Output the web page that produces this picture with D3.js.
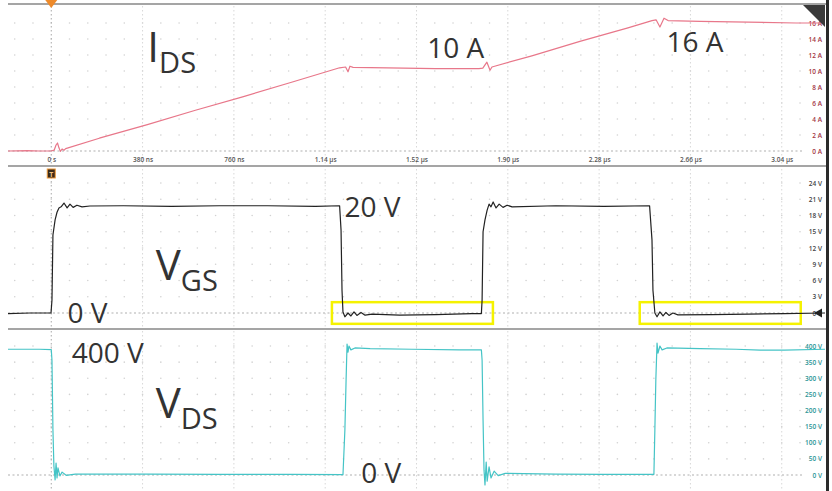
<!DOCTYPE html>
<html>
<head>
<meta charset="utf-8">
<script src="https://cdn.jsdelivr.net/npm/d3@7"></script>
<style>
  body { margin: 0; background: #fff; }
  svg { display: block; font-family: "Open Sans", sans-serif; }
</style>
</head>
<body>
<svg id="scope" width="832" height="491"></svg>
<script>
// time axis (µs)
const timeTicks = [0, 0.38, 0.76, 1.14, 1.52, 1.90, 2.28, 2.66, 3.04]
const timeLabels = ['0 s', '380 ns', '760 ns', '1.14 µs', '1.52 µs', '1.90 µs', '2.28 µs', '2.66 µs', '3.04 µs']

const idsTicks = [0, 2, 4, 6, 8, 10, 12, 14, 16]
const vgsTicks = [0, 3, 6, 9, 12, 15, 18, 21, 24]
const vdsTicks = [0, 50, 100, 150, 200, 250, 300, 350, 400]

// [t µs, A]
const idsData = [
	[-0.18, 0], [-0.1, 0.05], [-0.05, 0], [0.0, 0], [0.012, 0.1], [0.02, 0.75], [0.026, 1.0],
	[0.032, 0.4], [0.038, -0.05], [0.045, 0.25], [0.053, 0.1], [0.06, 0.3], [0.2, 1.6],
	[0.4, 3.3], [0.6, 5.1], [0.8, 6.8], [1.0, 8.6], [1.2, 10.4], [1.225, 10.5],
	[1.235, 9.9], [1.243, 10.6], [1.256, 10.45], [1.4, 10.4], [1.6, 10.3], [1.78, 10.3],
	[1.796, 10.35], [1.813, 11.1], [1.826, 10.1], [1.834, 10.5], [2.0, 11.9], [2.2, 13.7],
	[2.4, 15.4], [2.5, 16.3], [2.517, 16.4], [2.533, 15.5], [2.55, 16.6], [2.567, 16.3],
	[2.7, 16.2], [2.9, 16.1], [3.1, 16.0], [3.22, 16.0]
]

// [t µs, V]
const vgsData = [
	[-0.18, -0.1], [-0.088, 0], [-0.001, 0], [0.003, 2.4], [0.007, 14.4], [0.016, 17.2],
	[0.024, 18.6], [0.032, 19.4], [0.041, 19.6], [0.053, 20.3], [0.066, 19.4], [0.078, 20.1],
	[0.091, 19.5], [0.107, 19.9], [0.128, 19.6], [0.161, 19.75], [0.3, 19.8], [0.5, 19.7],
	[0.7, 19.8], [0.9, 19.8], [1.1, 19.7], [1.2, 19.8], [1.206, 15.3], [1.21, 4.2],
	[1.214, 0.2], [1.222, -0.7], [1.235, 0], [1.247, -0.55], [1.26, 0.2], [1.272, -0.45],
	[1.289, 0.1], [1.306, -0.4], [1.335, -0.2], [1.45, -0.4], [1.6, -0.3], [1.75, -0.1],
	[1.79, -0.1], [1.793, 2.4], [1.797, 15.0], [1.805, 17.2], [1.814, 19.0], [1.822, 20.1],
	[1.83, 19.6], [1.839, 20.5], [1.851, 19.4], [1.864, 20.1], [1.88, 19.5], [1.897, 19.9],
	[1.918, 19.6], [2.1, 19.8], [2.3, 19.7], [2.49, 19.8], [2.5, 13.5], [2.504, 4.2],
	[2.512, 0], [2.521, -0.7], [2.533, 0.2], [2.546, -0.55], [2.558, 0.1], [2.571, -0.45],
	[2.587, 0], [2.608, -0.35], [2.75, -0.3], [2.9, -0.2], [3.05, -0.1], [3.22, 0]
]

// [t µs, V]
const vdsData = [
	[-0.18, 390], [-0.05, 390], [0.0, 389], [0.003, 356], [0.007, 140], [0.011, 28],
	[0.016, -15], [0.02, 37], [0.024, -9], [0.028, 22], [0.036, -3], [0.045, 9],
	[0.062, -1], [0.1, 3], [0.4, 3], [0.7, 2], [1.0, 2], [1.214, 1], [1.222, 140],
	[1.227, 295], [1.231, 406], [1.235, 381], [1.239, 400], [1.247, 388], [1.264, 394],
	[1.327, 392], [1.5, 390], [1.7, 388], [1.79, 388], [1.793, 356], [1.797, 170],
	[1.801, 15], [1.805, -31], [1.81, 40], [1.814, -19], [1.822, 25], [1.83, -9],
	[1.843, 12], [1.86, -2], [1.889, 5], [2.1, 3], [2.3, 2], [2.508, 2], [2.512, 140],
	[2.516, 295], [2.521, 409], [2.525, 378], [2.533, 400], [2.542, 388], [2.562, 394],
	[2.7, 392], [2.85, 390], [2.95, 387], [3.05, 387], [3.22, 390]
]

// annotation boxes on VGS: [t0, t1, v0, v1]
const boxes = [[1.168, 1.838, -2.0, 2.0], [2.449, 3.119, -2.0, 2.0]]

const $svg = d3.select('#scope')

const scaleX = d3.scaleLinear().domain([-0.18, 3.22]).range([8, 825])

const panels = [
	{ key: 'ids', top: 4, bottom: 166, y0: 151, y1: 23, max: 16, ticks: idsTicks, unit: 'A',
		data: idsData, color: '#e8778a', labelColor: '#a33443' },
	{ key: 'vgs', top: 167, bottom: 328, y0: 313, y1: 183, max: 24, ticks: vgsTicks, unit: 'V',
		data: vgsData, color: '#222', labelColor: '#444' },
	{ key: 'vds', top: 329, bottom: 491, y0: 475, y1: 346, max: 400, ticks: vdsTicks, unit: 'V',
		data: vdsData, color: '#45c4c6', labelColor: '#2a9596' }
]
panels.forEach(p => {
	p.scaleY = d3.scaleLinear().domain([0, p.max]).range([p.y0, p.y1])
})

const minorX = d3.range(-0.152, 3.21, 0.076)

// grid
panels.forEach(p => {
	const $g = $svg.append('g').attr('class', 'grid-' + p.key)
	const dots = []
	minorX.forEach(t => p.ticks.slice(1).forEach(v => dots.push([t, v])))
	$g.selectAll('circle')
		.data(dots)
		.enter()
		.append('circle')
		.attr('cx', d => scaleX(d[0]))
		.attr('cy', d => p.scaleY(d[1]))
		.attr('r', 0.8)
		.attr('fill', '#d2d2d2')

	$g.selectAll('line.vgrid')
		.data(timeTicks)
		.enter()
		.append('line')
		.attr('class', 'vgrid')
		.attr('x1', d => scaleX(d))
		.attr('x2', d => scaleX(d))
		.attr('y1', p.top + 2)
		.attr('y2', p.bottom - 1)
		.attr('stroke', (d, i) => i === 0 ? '#a8a8a8' : '#d8d8d8')
		.attr('stroke-width', 1)
		.attr('stroke-dasharray', '1.5,2.5')

	$g.append('line')
		.attr('x1', 8)
		.attr('x2', 803)
		.attr('y1', p.scaleY(0))
		.attr('y2', p.scaleY(0))
		.attr('stroke', '#b0b0b0')
		.attr('stroke-width', 1.2)
		.attr('stroke-dasharray', '2,2.5')
})

// panel separators
$svg.selectAll('line.sep')
	.data([4, 166, 329])
	.enter()
	.append('line')
	.attr('class', 'sep')
	.attr('x1', 8)
	.attr('x2', 826)
	.attr('y1', d => d)
	.attr('y2', d => d)
	.attr('stroke', '#a5a5a5')
	.attr('stroke-width', 2)

// right border
$svg.append('rect')
	.attr('x', 826).attr('y', 0).attr('width', 3).attr('height', 491)
	.attr('fill', '#2a2a2a')

// time labels (top panel)
const axisX = d3.axisBottom(scaleX)
	.tickValues(timeTicks)
	.tickFormat((d, i) => timeLabels[i])
	.tickSize(0)
	.tickPadding(0)
const $axisX = $svg.append('g')
	.attr('transform', 'translate(0,157)')
	.call(axisX)
$axisX.select('.domain').remove()
$axisX.selectAll('text')
	.attr('font-family', '"Open Sans", sans-serif')
	.attr('font-size', 6.5)
	.attr('font-weight', 600)
	.attr('fill', '#555')

// right scale labels
panels.forEach(p => {
	const axisY = d3.axisLeft(p.scaleY)
		.tickValues(p.ticks)
		.tickFormat(d => d + ' ' + p.unit)
		.tickSize(0)
		.tickPadding(0)
	const $ay = $svg.append('g')
		.attr('transform', 'translate(822,0)')
		.call(axisY)
	$ay.select('.domain').remove()
	$ay.selectAll('text')
		.attr('font-family', '"Open Sans", sans-serif')
		.attr('font-size', 6.5)
		.attr('font-weight', 600)
		.attr('fill', p.labelColor)
})

// yellow boxes
const vgs = panels[1]
$svg.selectAll('rect.box')
	.data(boxes)
	.enter()
	.append('rect')
	.attr('class', 'box')
	.attr('x', d => scaleX(d[0]))
	.attr('y', d => vgs.scaleY(d[3]))
	.attr('width', d => scaleX(d[1]) - scaleX(d[0]))
	.attr('height', d => vgs.scaleY(d[2]) - vgs.scaleY(d[3]))
	.attr('fill', 'none')
	.attr('stroke', '#f5f200')
	.attr('stroke-width', 2.5)

// traces
panels.forEach(p => {
	const line = d3.line()
		.x(d => scaleX(d[0]))
		.y(d => p.scaleY(d[1]))
	$svg.append('path')
		.datum(p.data)
		.attr('d', line)
		.attr('fill', 'none')
		.attr('stroke', p.color)
		.attr('stroke-width', 1.2)
		.attr('stroke-linejoin', 'round')
})

// trigger markers
const x0 = scaleX(0)
$svg.append('path')
	.attr('d', `M${x0 - 6},0 L${x0 + 6},0 L${x0},8 Z`)
	.attr('fill', '#ee8a2a')
$svg.append('rect')
	.attr('x', x0 - 4).attr('y', 169).attr('width', 8).attr('height', 9)
	.attr('fill', '#3a2a1a').attr('stroke', '#f09a3a').attr('stroke-width', 1)
$svg.append('text')
	.attr('x', x0).attr('y', 176.5)
	.attr('text-anchor', 'middle')
	.attr('font-size', 7).attr('font-weight', 700)
	.attr('fill', '#f0c080')
	.text('T')

// VGS level marker
const yLvl = vgs.scaleY(0)
$svg.append('path')
	.attr('d', `M814,${yLvl} L822,${yLvl - 4.5} L822,${yLvl + 4.5} Z`)
	.attr('fill', '#222')

// corner widget
$svg.append('path')
	.attr('d', 'M803,5 L825,5 L825,27 Z')
	.attr('fill', '#3a3a3a')

// annotations [panel, t, value, main, sub]
const notes = [
	[0, 0.40, 11.1, 'I', 'DS'],
	[0, 1.565, 11.6, '10 A', null],
	[0, 2.56, 12.4, '16 A', null],
	[1, 0.435, 6.1, 'V', 'GS'],
	[1, 1.22, 17.7, '20 V', null],
	[1, 0.068, -1.85, '0 V', null],
	[2, 0.085, 347, '400 V', null],
	[2, 0.435, 177, 'V', 'DS'],
	[2, 1.29, -26, '0 V', null]
]
notes.forEach(n => {
	const p = panels[n[0]]
	const $t = $svg.append('text')
		.attr('x', scaleX(n[1]))
		.attr('y', p.scaleY(n[2]))
		.attr('fill', '#333')
		.attr('font-family', '"Open Sans", sans-serif')
	if (n[4]) {
		$t.append('tspan').attr('font-size', 42).text(n[3])
		$t.append('tspan').attr('font-size', 29).attr('dy', 11).text(n[4])
	} else {
		$t.attr('font-size', 28).text(n[3])
	}
})
</script>
</body>
</html>
